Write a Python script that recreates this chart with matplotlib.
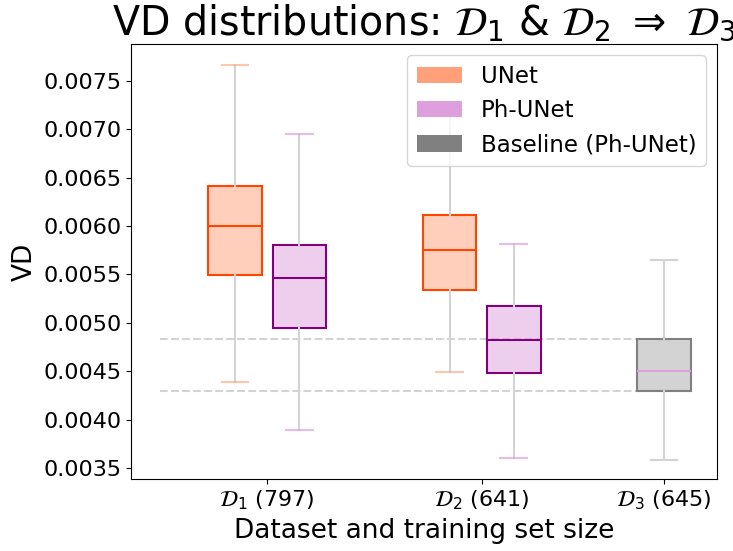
import matplotlib
matplotlib.use("Agg")
import matplotlib.pyplot as plt
from matplotlib.patches import Patch
from matplotlib.ticker import FormatStrFormatter

# box stats
names = ["UNet", "Ph-UNet", "UNet", "Ph-UNet", "Baseline (Ph-UNet)"]
positions = [1, 1.3, 2, 2.3, 3]
whislo = [0.00439, 0.00389, 0.00449, 0.00360, 0.00358]
q1 = [0.00549, 0.00495, 0.00534, 0.00448, 0.00430]
med = [0.00600, 0.00546, 0.00575, 0.00482, 0.00450]
q3 = [0.00641, 0.00580, 0.00611, 0.00517, 0.00483]
whishi = [0.00767, 0.00695, 0.00720, 0.00582, 0.00565]

tick_pos = [1.15, 2.15, 3]
tick_labels = [r"$\mathcal{D}_1$ (797)", r"$\mathcal{D}_2$ (641)", r"$\mathcal{D}_3$ (645)"]

style = {
    "UNet": dict(face=(1.0, 0.627, 0.478, 0.5), edge="orangered", med="orangered",
                 cap=(1.0, 0.627, 0.478, 0.6)),
    "Ph-UNet": dict(face=(0.867, 0.627, 0.867, 0.5), edge="purple", med="purple",
                    cap=(0.867, 0.627, 0.867, 0.7)),
    "Baseline (Ph-UNet)": dict(face="lightgray", edge="gray", med="plum", cap="lightgray"),
}

fig = plt.figure(figsize=(7.33, 5.51), dpi=100)
ax = fig.add_axes([131 / 733, 1 - 479 / 551, (717 - 131) / 733, (479 - 44) / 551])

# reference band from the baseline quartiles
ax.hlines([q3[-1], q1[-1]], 0.65, positions[-1] - 0.125, colors="lightgray",
          linestyles="--", lw=1.5, zorder=1)

for i, name in enumerate(names):
    st = dict(med=med[i], q1=q1[i], q3=q3[i], whislo=whislo[i], whishi=whishi[i], fliers=[])
    s = style[name]
    ax.bxp([st], positions=[positions[i]], widths=0.25, patch_artist=True,
           boxprops=dict(facecolor=s["face"], edgecolor=s["edge"], lw=1.5),
           medianprops=dict(color=s["med"], lw=1.5),
           whiskerprops=dict(color="lightgray", lw=1.5),
           capprops=dict(color=s["cap"], lw=1.5),
           showfliers=False, manage_ticks=False, zorder=2)

ax.set_xlim(0.515, 3.247)
ax.set_ylim(0.003386, 0.007882)
ax.set_xticks(tick_pos)
ax.set_xticklabels(tick_labels)
ax.set_yticks([0.0035 + 0.0005 * k for k in range(9)])
ax.yaxis.set_major_formatter(FormatStrFormatter("%.4f"))
ax.tick_params(labelsize=16)

ax.set_xlabel("Dataset and training set size", fontsize=19)
ax.set_ylabel("VD", fontsize=19)
ax.set_title(r"VD distributions: $\mathcal{D}_1$ & $\mathcal{D}_2$ $\Rightarrow$ $\mathcal{D}_3$",
             fontsize=28.5, pad=7)

handles = [Patch(facecolor="lightsalmon", label="UNet"),
           Patch(facecolor="plum", label="Ph-UNet"),
           Patch(facecolor="gray", label="Baseline (Ph-UNet)")]
ax.legend(handles=handles, loc="upper right", fontsize=16.5)

fig.savefig("out.png", dpi=100)
